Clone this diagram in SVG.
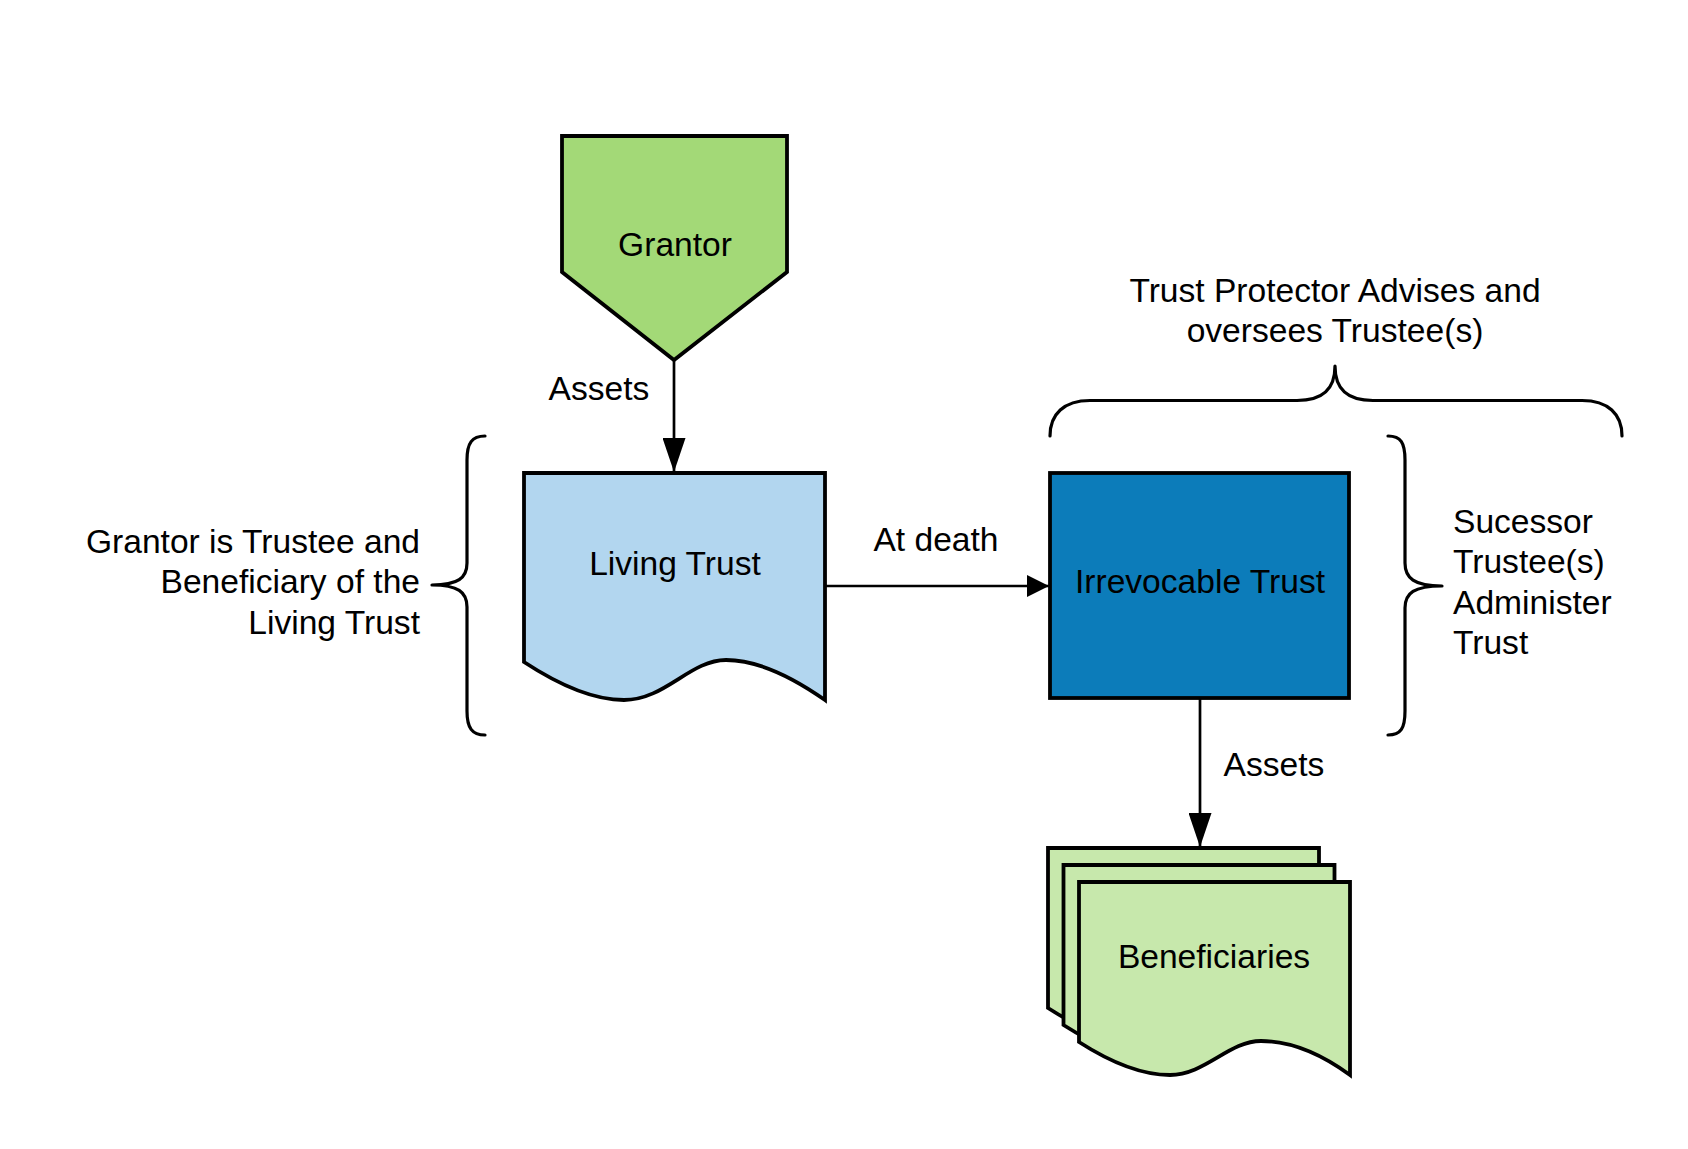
<svg xmlns="http://www.w3.org/2000/svg" width="1688" height="1149" viewBox="0 0 1688 1149">
<style>
  .shape { stroke: #000; stroke-width: 3.8; stroke-linejoin: miter; }
  .lbl { font-family: "Liberation Sans", Arial, sans-serif; font-size: 33.6px; fill: #000; }
  .mid { text-anchor: middle; }
  .end { text-anchor: end; }
  .conn { fill: none; stroke: #000; stroke-width: 2.7; }
  .brace { fill: none; stroke: #000; stroke-width: 3.2; stroke-linecap: round; stroke-linejoin: round; }
</style>
<defs>
  <marker id="arrow-long" viewBox="0 0 34 23" refX="34" refY="11.5" markerWidth="34" markerHeight="23" markerUnits="userSpaceOnUse" orient="auto">
    <path d="M0,0 L34,11.5 L0,23 Z" fill="#000"/>
  </marker>
  <marker id="arrow-short" viewBox="0 0 22 22" refX="22" refY="11" markerWidth="22" markerHeight="22" markerUnits="userSpaceOnUse" orient="auto">
    <path d="M0,0 L22,11 L0,22 Z" fill="#000"/>
  </marker>
  <path id="page" d="M0,0 H271 V193 C245,174 214,159 182,159 C150,159 126,193 91,193 C60,193 28,178 0,160 Z"/>
</defs>
<rect width="1688" height="1149" fill="#fff"/>

<g id="connectors">
  <line class="conn" x1="674" y1="360" x2="674" y2="472" marker-end="url(#arrow-long)"/>
  <line class="conn" x1="825" y1="586" x2="1049" y2="586" marker-end="url(#arrow-short)"/>
  <line class="conn" x1="1200" y1="698" x2="1200" y2="847" marker-end="url(#arrow-long)"/>
  <text class="lbl mid" x="599" y="400">Assets</text>
  <text class="lbl mid" x="936" y="551">At death</text>
  <text class="lbl mid" x="1274" y="776">Assets</text>
</g>

<g id="grantor">
  <polygon class="shape" points="562,136 787,136 787,272 674,360 562,272" fill="#a3d977"/>
  <text class="lbl mid" x="675" y="256">Grantor</text>
</g>

<g id="living-trust">
  <path class="shape" fill="#b2d6ef" d="M524,473 H825 V700 C795,679 760,660 726,660 C690,660 665,700 624,700 C590,700 556,683 524,662 Z"/>
  <text class="lbl mid" x="675" y="575">Living Trust</text>
</g>

<g id="irrevocable-trust">
  <rect class="shape" x="1050" y="473" width="299" height="225" fill="#0c7cba"/>
  <text class="lbl mid" x="1200" y="593">Irrevocable Trust</text>
</g>

<g id="beneficiaries">
  <use href="#page" class="shape" fill="#c7e8ac" transform="translate(1048,848)"/>
  <use href="#page" class="shape" fill="#c7e8ac" transform="translate(1063.5,865)"/>
  <use href="#page" class="shape" fill="#c7e8ac" transform="translate(1079,882)"/>
  <text class="lbl mid" x="1214" y="968">Beneficiaries</text>
</g>

<g id="brace-left">
  <path class="brace" d="M485,436 C472,436 467,443 467,460 L467,563 C467,578 458,585 432,585 C458,585 467,592 467,607 L467,711 C467,728 472,735 485,735"/>
  <text class="lbl end" x="420" y="553">Grantor is Trustee and</text>
  <text class="lbl end" x="420" y="593">Beneficiary of the</text>
  <text class="lbl end" x="420" y="634">Living Trust</text>
</g>

<g id="brace-top">
  <path class="brace" d="M1050,436 C1050,414 1064,400.5 1090,400.5 L1297,400.5 C1322,400.5 1335,390 1335,366 C1335,390 1348,400.5 1373,400.5 L1582,400.5 C1608,400.5 1622,414 1622,436"/>
  <text class="lbl mid" x="1335" y="302">Trust Protector Advises and</text>
  <text class="lbl mid" x="1335" y="342">oversees Trustee(s)</text>
</g>

<g id="brace-right">
  <path class="brace" d="M1388,436 C1401,436 1405,443 1405,460 L1405,563 C1405,578 1414,586 1442,586 C1414,586 1405,593 1405,608 L1405,711 C1405,728 1401,735 1388,735"/>
  <text class="lbl" x="1453" y="533">Sucessor</text>
  <text class="lbl" x="1453" y="573">Trustee(s)</text>
  <text class="lbl" x="1453" y="614">Administer</text>
  <text class="lbl" x="1453" y="654">Trust</text>
</g>
</svg>
